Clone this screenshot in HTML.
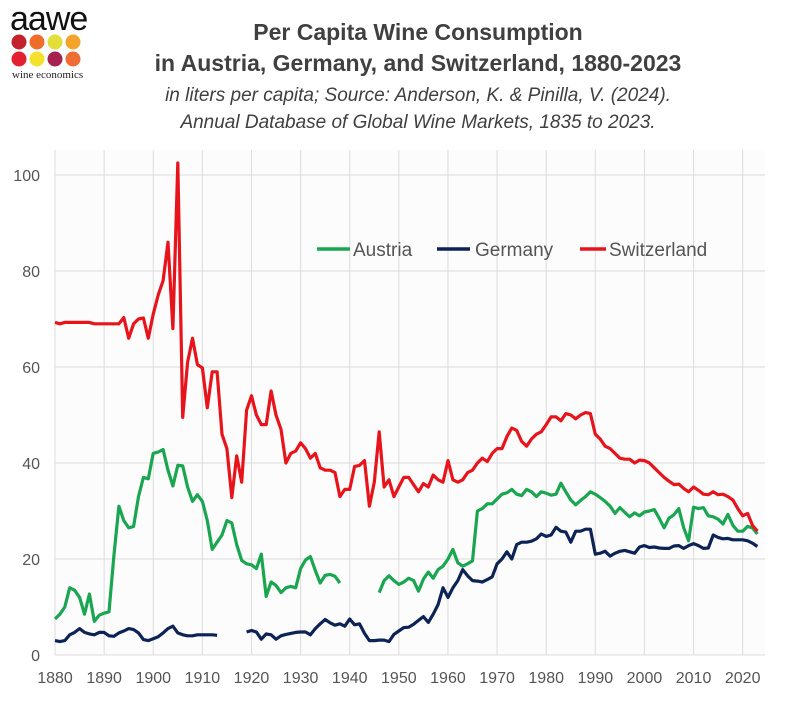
<!DOCTYPE html>
<html><head><meta charset="utf-8"><style>
body{margin:0;background:#fff;}
svg text{font-family:"Liberation Sans",sans-serif;}
</style></head><body>
<svg id="s" width="800" height="718" xmlns="http://www.w3.org/2000/svg">
<rect x="0" y="0" width="800" height="718" fill="#fff"/>
<rect x="55" y="150" width="710" height="505" fill="#fcfcfc"/>
<g id="grid" stroke="#dcdcdc" stroke-width="1"></g>
<g font-size="16" fill="#555" text-anchor="end" id="yl"></g>
<g font-size="16" fill="#555" text-anchor="middle" id="xl"></g>
<g id="lines" fill="none" stroke-width="3.2" stroke-linejoin="round"></g>
<!-- logo -->
<text x="10" y="30" font-size="34" fill="#111" style="font-family:'Liberation Sans',sans-serif" letter-spacing="-1">aawe</text>
<circle cx="19" cy="42" r="7.5" fill="#c4222a"/><circle cx="37" cy="42" r="7.5" fill="#ee6d2a"/><circle cx="55" cy="42" r="7.5" fill="#e3df3a"/><circle cx="73" cy="42" r="7.5" fill="#f4a42b"/>
<circle cx="19" cy="59" r="7.5" fill="#e3202f"/><circle cx="37" cy="59" r="7.5" fill="#f4e12c"/><circle cx="55" cy="59" r="7.5" fill="#a6214f"/><circle cx="73" cy="59" r="7.5" fill="#ef6c34"/>
<text x="12" y="78" font-size="11" fill="#222" style="font-family:'Liberation Serif',serif">wine economics</text>
<!-- titles -->
<text x="418" y="40" font-size="23" font-weight="bold" fill="#404040" text-anchor="middle">Per Capita Wine Consumption</text>
<text x="418" y="71" font-size="23" font-weight="bold" fill="#404040" text-anchor="middle">in Austria, Germany, and Switzerland, 1880-2023</text>
<text x="418" y="101" font-size="19" font-style="italic" fill="#404040" text-anchor="middle">in liters per capita; Source: Anderson, K. &amp; Pinilla, V. (2024).</text>
<text x="418" y="128" font-size="19" font-style="italic" fill="#404040" text-anchor="middle">Annual Database of Global Wine Markets, 1835 to 2023.</text>
<!-- legend -->
<line x1="317" y1="249" x2="350" y2="249" stroke="#1aa650" stroke-width="3.5"/>
<text x="353" y="256" font-size="19" fill="#555">Austria</text>
<line x1="437" y1="249" x2="470" y2="249" stroke="#0d2356" stroke-width="3.5"/>
<text x="475" y="256" font-size="19" fill="#555">Germany</text>
<line x1="580" y1="249" x2="606" y2="249" stroke="#e8141b" stroke-width="3.5"/>
<text x="609" y="256" font-size="19" fill="#555">Switzerland</text>
</svg>
<script>
var X=function(y){return 55+(y-1880)*4.912;},Y=function(v){return 655-v*4.8;};
var g=document.getElementById('grid'),yl=document.getElementById('yl'),xl=document.getElementById('xl'),ns='http://www.w3.org/2000/svg';
function el(p,t,a,txt){var e=document.createElementNS(ns,t);for(var k in a)e.setAttribute(k,a[k]);if(txt)e.textContent=txt;p.appendChild(e);return e;}
for(var v=0;v<=100;v+=20){el(g,'line',{x1:55,x2:765,y1:Y(v),y2:Y(v)});el(yl,'text',{x:40,y:Y(v)+6},String(v));}
for(var y=1880;y<=2020;y+=10){el(g,'line',{x1:X(y),x2:X(y),y1:150,y2:655});el(xl,'text',{x:X(y),y:683},String(y));}
var sw=[69.3,69,69.3,69.3,69.3,69.3,69.3,69.3,69,69,69,69,69,69,70.3,66,69,70,70.2,66,71,75,78,86,68,102.5,49.5,61,66,60.5,59.8,51.5,59,59,46,43,32.8,41.5,36,51,54,50,48,48,55,50,47,40,42,42.5,44.2,43,41,42,39,38.5,38.5,38,33,34.5,34.5,39.3,39.5,40.5,31,36,46.5,35,36.5,33,35,37,37,35.5,34,35.7,35,37.5,36.5,36,40.5,36.5,36,36.5,38,38.5,40,41,40.3,42,43,43,45.5,47.3,46.8,44.5,43.5,45,46,46.5,48,49.6,49.6,48.8,50.3,50,49.2,50,50.5,50.3,46,45,43.5,43,42,41,40.8,40.8,40,40.6,40.5,40,39,38,37,36.2,35.5,35.6,34.7,34,35,34.3,33.5,33.4,34,33.4,33.5,33,32.3,30.5,29,29.5,27,25.8];
var au=[7.5,8.5,10,14,13.5,12,8.5,12.7,7,8.3,8.7,9,20.7,31,28,26.5,26.8,33,37,36.7,42,42.3,42.8,38.5,35.2,39.5,39.4,35,32,33.4,32,28,22,23.5,25,28,27.5,23,19.7,19,18.8,18,21,12.2,15.2,14.5,13,14,14.3,14,18,19.8,20.5,17.6,15,16.6,16.8,16.4,15,null,null,null,null,null,null,null,13,15.5,16.5,15.5,14.7,15.2,16,15.5,13.3,15.8,17.3,16,17.8,18.5,20,22,19.2,18.5,19,19.6,30,30.5,31.5,31.5,32.5,33.5,33.8,34.5,33.5,33.2,34.5,34,33,34,33.7,33.3,33.5,35.8,34,32.3,31.3,32.2,33,34,33.5,32.8,32,31,29.5,30.7,29.7,28.8,29.6,29,29.8,30,30.3,28.5,26.5,28.5,29.2,30.5,26.5,23.8,30.8,30.5,30.7,29,28.8,28.3,27.3,29.3,27,25.8,25.8,26.8,26.5,25.2];
var de=[3,2.8,3,4.2,4.7,5.5,4.7,4.4,4.2,4.7,4.7,4,3.9,4.6,5,5.5,5.3,4.6,3.2,3,3.4,3.8,4.6,5.5,6,4.6,4.2,4,4,4.2,4.2,4.2,4.2,4.1,null,null,null,null,null,4.8,5.1,4.8,3.3,4.4,4.2,3.3,4,4.3,4.5,4.7,4.8,4.8,4.2,5.5,6.5,7.4,6.7,6.2,6.5,6,7.5,6.3,6.5,4.5,3,3,3.1,3.1,2.8,4.3,5,5.7,5.8,6.4,7.2,8,6.8,8.5,10.5,14,12,14,15.5,17.8,16.5,15.5,15.4,15.2,15.7,16.3,19,20,21.5,20,23,23.5,23.5,23.7,24.2,25.2,24.7,25,26.6,25.8,25.6,23.5,25.8,25.8,26.2,26.2,21,21.2,21.6,20.6,21.2,21.6,21.8,21.5,21.2,22.5,22.8,22.4,22.5,22.3,22.2,22.2,22.7,22.8,22.2,22.8,23.2,22.8,22.2,22.3,25,24.5,24.2,24.3,24,24,24,23.8,23.3,22.6];
var L=document.getElementById('lines');
function draw(d,c){var p='',pen=false;for(var i=0;i<d.length;i++){if(d[i]==null){pen=false;continue;}p+=(pen?'L':'M')+X(1880+i).toFixed(1)+','+Y(d[i]).toFixed(1);pen=true;}el(L,'path',{d:p,stroke:c});}
draw(au,'#1aa650');draw(de,'#0d2356');draw(sw,'#e8141b');
</script>
</body></html>
